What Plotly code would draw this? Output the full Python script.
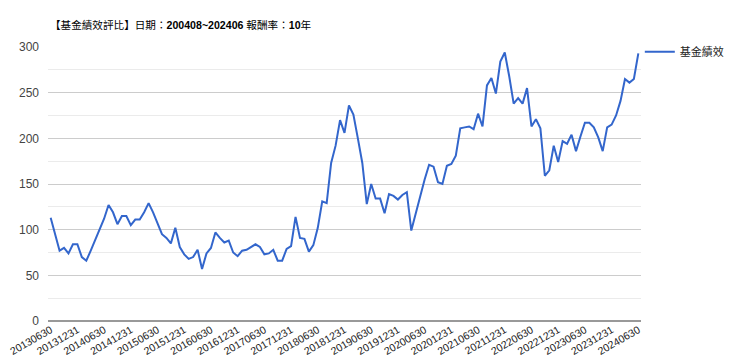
import pandas as pd
import plotly.graph_objects as go

# Monthly fund performance values, 2013-06 .. 2024-06
values = [
    113, 95, 77, 80, 74, 84, 84, 70, 66, 77, 88, 99, 112, 127, 119, 106, 115, 115, 105, 111,
    111, 119, 129, 119, 107, 95, 91, 85, 102, 81, 73, 68, 70, 78, 57, 74, 80, 97, 91, 86,
    88, 75, 71, 77, 78, 81, 84, 81, 73, 74, 78, 66, 66, 79, 82, 114, 91, 90, 76, 83,
    102, 131, 129, 173, 192, 220, 206, 236, 226, 200, 173, 128, 150, 134, 134, 118, 139, 137, 133, 138,
    141, 99, 118, 134, 155, 171, 169, 152, 150, 170, 172, 181, 211, 212, 213, 210, 227, 213, 258, 266,
    249, 284, 294, 268, 238, 244, 238, 255, 213, 221, 211, 159, 165, 192, 174, 197, 194, 204, 186, 202,
    217, 217, 212, 201, 186, 212, 215, 225, 241, 265, 261, 265, 293,
]
dates = [d.strftime("%Y%m%d") for d in pd.date_range("2013-06-30", periods=len(values), freq="ME")]
tick_labels = [
    "20130630", "20131231", "20140630", "20141231", "20150630", "20151231", "20160630",
    "20161231", "20170630", "20171231", "20180630", "20181231", "20190630", "20191231",
    "20200630", "20201231", "20210630", "20211231", "20220630", "20221231", "20230630",
    "20231231", "20240630",
]
series_name = "基金績效"
title_text = "【基金績效評比】日期：<b>200408~202406</b> 報酬率：<b>10</b>年"

FONT = "Liberation Sans, Arial, Noto Sans CJK TC, sans-serif"

# page body has an 8px default margin, so the figure is sized to fit the window
W, H = 732, 356

fig = go.Figure()
fig.add_trace(go.Scatter(
    x=dates, y=values, mode="lines", name=series_name,
    line=dict(color="#3366cc", width=2),
))

fig.update_layout(
    width=W, height=H,
    margin=dict(l=40, r=99, t=39, b=43, autoexpand=False),
    paper_bgcolor="white", plot_bgcolor="white",
    font=dict(family=FONT, size=11, color="#222222"),
    title=dict(text=title_text, x=42 / W, xref="container", xanchor="left",
               y=1 - 17 / H, yref="container", yanchor="middle",
               font=dict(family=FONT, size=10.6, color="#000000")),
    showlegend=True,
    legend=dict(x=0.998, xanchor="left", y=1.036, yanchor="top",
                font=dict(family=FONT, size=11, color="#222222"),
                itemwidth=30, bgcolor="rgba(0,0,0,0)"),
)
fig.update_xaxes(
    type="category", range=[-0.6, len(values) - 1 + 0.6], automargin=False,
    tickmode="array", tickvals=tick_labels, ticktext=tick_labels,
    tickangle=-30, showgrid=False, ticks="", showline=False, zeroline=False,
    tickfont=dict(family=FONT, size=10.5, color="#222222"),
)
fig.update_yaxes(
    range=[0, 300], dtick=50, tick0=0, automargin=False,
    showgrid=True, gridcolor="#cccccc", gridwidth=1,
    minor=dict(dtick=25, showgrid=True, gridcolor="#ebebeb", gridwidth=1),
    zeroline=True, zerolinecolor="#999999", zerolinewidth=2,
    showline=False, ticks="", ticklabelstandoff=8,
    tickfont=dict(family=FONT, size=12, color="#444444"),
)

fig.write_html("out.html")
